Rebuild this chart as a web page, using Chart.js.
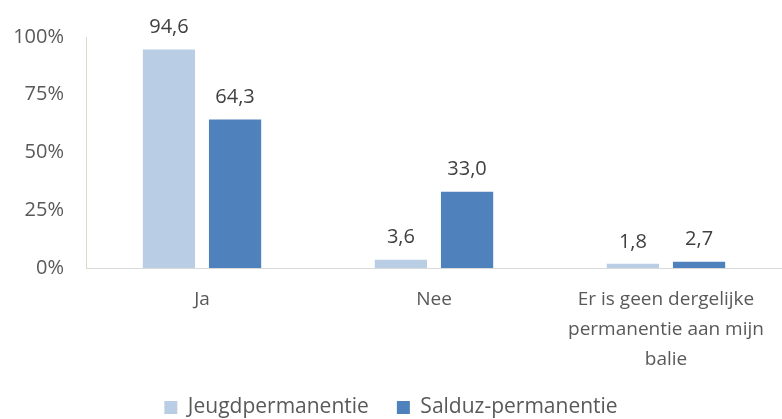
<!DOCTYPE html>
<html><head><meta charset="utf-8">
<script src="https://cdn.jsdelivr.net/npm/chart.js@4.4.0/dist/chart.umd.min.js"></script>
<style>html,body{margin:0;padding:0;background:#fff;overflow:hidden}#wrap{width:782px;height:419px}</style>
</head><body><div id="wrap"><canvas id="c" width="782" height="419"></canvas></div>
<script>
const categories = [["Ja"], ["Nee"], ["Er is geen dergelijke", "permanentie aan mijn", "balie"]];
const seriesNames = ["Jeugdpermanentie", "Salduz-permanentie"];
const jeugd = [94.6, 3.6, 1.8];
const salduz = [64.3, 33.0, 2.7];
const yTicks = [0, 25, 50, 75, 100];
const colors = ["#b9cde5", "#4f81bd"];
const FONT = "'Open Sans'";

const labelPlugin = {
  id: "vals",
  afterDatasetsDraw(chart) {
    const ctx = chart.ctx;
    ctx.save();
    ctx.font = "20px " + FONT;
    ctx.fillStyle = "#404040";
    ctx.textAlign = "center";
    ctx.textBaseline = "bottom";
    chart.data.datasets.forEach((ds, i) => {
      chart.getDatasetMeta(i).data.forEach((el, j) => {
        ctx.fillText(ds.data[j].toFixed(1).replace(".", ","), el.x, el.y - 12);
      });
    });
    ctx.restore();
  }
};

new Chart(document.getElementById("c"), {
  type: "bar",
  data: {
    labels: categories,
    datasets: [
      { label: seriesNames[0], data: jeugd, backgroundColor: colors[0], barPercentage: 0.79, categoryPercentage: 0.57 },
      { label: seriesNames[1], data: salduz, backgroundColor: colors[1], barPercentage: 0.79, categoryPercentage: 0.57 }
    ]
  },
  options: {
    responsive: false,
    animation: false,
    layout: { padding: { top: 37, right: 0, left: 0, bottom: -9 } },
    plugins: {
      legend: {
        position: "bottom",
        labels: { font: { family: "Open Sans", size: 21 }, color: "#595959", boxWidth: 13, boxHeight: 13, padding: 28 }
      },
      tooltip: { enabled: false }
    },
    scales: {
      x: {
        grid: { display: false, drawTicks: false },
        border: { color: "#d9d9d9", width: 1 },
        ticks: { font: { family: "Open Sans", size: 19, lineHeight: 1.6 }, color: "#595959", padding: 16, maxRotation: 0 },
        afterFit(s) { s.height = 101; }
      },
      y: {
        min: 0, max: 100,
        afterBuildTicks(s) { s.ticks = yTicks.map(v => ({ value: v })); },
        grid: { display: false, drawTicks: false },
        border: { color: "#ddd9c3", width: 1 },
        ticks: { font: { family: "Open Sans", size: 20 }, color: "#595959", padding: 22, callback: v => v + "%" },
        afterFit(s) { s.width = 86; }
      }
    }
  },
  plugins: [labelPlugin]
});
</script></body></html>
